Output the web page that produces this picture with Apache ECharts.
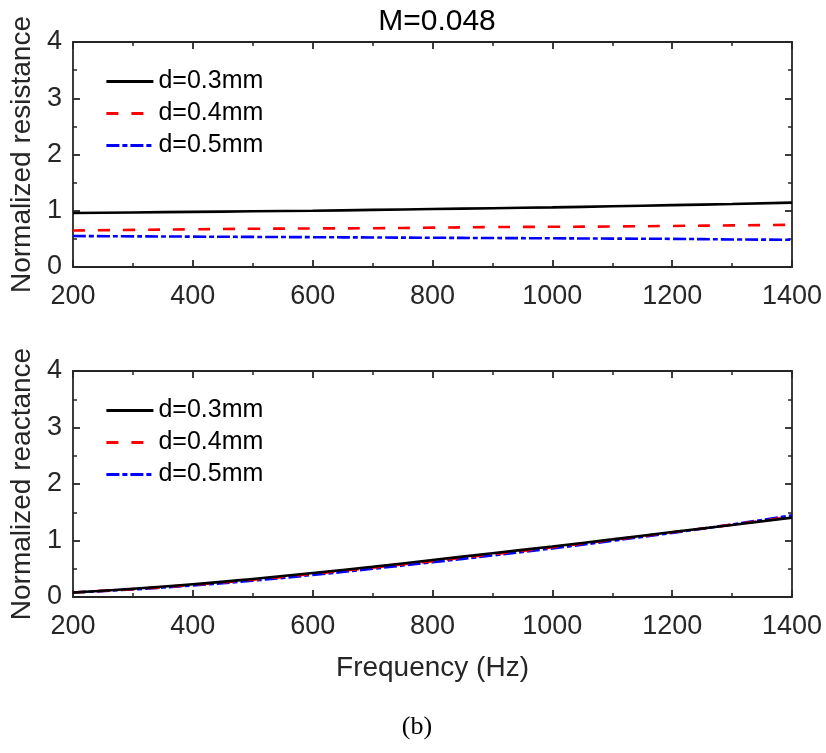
<!DOCTYPE html>
<html><head><meta charset="utf-8">
<script src="https://cdn.jsdelivr.net/npm/echarts@6/dist/echarts.min.js"></script>
<style>html,body{margin:0;padding:0;background:#fff}#c{width:826px;height:753px}</style>
</head><body><div id="c"></div>
<script>
const freq = [200,300,400,500,600,700,800,900,1000,1100,1200,1300,1400];
const seriesNames = ['d=0.3mm','d=0.4mm','d=0.5mm'];
const resD03 = [0.96,0.97,0.98,0.99,1.00,1.015,1.03,1.045,1.06,1.08,1.10,1.12,1.145];
const resD04 = [0.65,0.66,0.67,0.68,0.685,0.69,0.70,0.71,0.715,0.72,0.73,0.74,0.75];
const resD05 = [0.55,0.545,0.54,0.535,0.53,0.525,0.52,0.515,0.51,0.505,0.50,0.49,0.485];
const reaD03 = [0.08,0.145,0.225,0.32,0.425,0.535,0.655,0.775,0.895,1.02,1.15,1.275,1.405];
const reaD04 = [0.08,0.14,0.215,0.305,0.41,0.52,0.635,0.755,0.88,1.01,1.145,1.28,1.42];
const reaD05 = [0.08,0.135,0.205,0.29,0.39,0.50,0.615,0.735,0.86,0.995,1.135,1.285,1.445];
const xTicks = [200,400,600,800,1000,1200,1400];
const yTicks = [0,1,2,3,4];

const FONT = 'Liberation Sans';
const AX = '#262626';
const styles = [
  {color:'#000000', type:'solid'},
  {color:'#ff0000', type:[12,13]},
  {color:'#0000ff', type:[13,3,5,3]}
];
function pairs(v){ return freq.map((f,i)=>[f,v[i]]); }

function xAx(grid, pos, labels, name){
  return {
    type:'value', gridIndex:grid, position:pos, min:xTicks[0], max:xTicks[xTicks.length-1], interval:200,
    axisLine:{show:true, onZero:false, lineStyle:{color:AX, width:1.8}},
    axisTick:{show:true, inside:true, length:7, lineStyle:{color:AX, width:1.8}},
    minorTick:{show:true, splitNumber:2, length:4, lineStyle:{color:AX, width:1.5}},
    splitLine:{show:false},
    axisLabel:{show:labels, color:AX, fontSize:27, fontFamily:FONT, margin:16, formatter:v=>String(v)},
    name:name||'', nameLocation:'middle', nameGap:57,
    nameTextStyle:{color:AX, fontSize:28, fontFamily:FONT}
  };
}
function yAx(grid, pos, labels, name){
  return {
    type:'value', gridIndex:grid, position:pos, min:yTicks[0], max:yTicks[yTicks.length-1], interval:1,
    axisLine:{show:true, onZero:false, lineStyle:{color:AX, width:1.8}},
    axisTick:{show:true, inside:true, length:7, lineStyle:{color:AX, width:1.8}},
    minorTick:{show:true, splitNumber:2, length:4, lineStyle:{color:AX, width:1.5}},
    splitLine:{show:false},
    axisLabel:{show:labels, color:AX, fontSize:27, fontFamily:FONT, margin:11, formatter:v=>String(v)},
    name:name||'', nameLocation:'middle', nameGap:30,
    nameTextStyle:{color:AX, fontSize:28, fontFamily:FONT}
  };
}
function mk(name, data, k, xi, yi){
  return {
    name:name, type:'line', xAxisIndex:xi, yAxisIndex:yi, data:pairs(data),
    showSymbol:false, symbol:'none', smooth:true,
    lineStyle:{color:styles[k].color, type:styles[k].type, width:2.6},
    itemStyle:{color:styles[k].color}, silent:true, z:10-k
  };
}
function legend(top){
  return {
    orient:'vertical', left:100, top:top, itemWidth:47, itemHeight:14, itemGap:7,
    data:seriesNames,
    itemStyle:{opacity:0},
    lineStyle:{width:2.8},
    textStyle:{color:'#000', fontSize:25, fontFamily:FONT},
    selectedMode:false
  };
}
const option = {
  animation:false,
  backgroundColor:'#fff',
  title:{text:'M=0.048', left:432, top:2, textAlign:'center',
    textStyle:{color:'#000', fontSize:30, fontWeight:'normal', fontFamily:FONT}},
  grid:[
    {left:73, top:42, width:719, height:225},
    {left:73, top:371, width:719, height:226}
  ],
  legend:[legend(64), legend(393)],
  xAxis:[xAx(0,'bottom',true), xAx(0,'top',false), xAx(1,'bottom',true,'Frequency (Hz)'), xAx(1,'top',false)],
  yAxis:[yAx(0,'left',true,'Normalized resistance'), yAx(0,'right',false), yAx(1,'left',true,'Normalized reactance'), yAx(1,'right',false)],
  graphic:[{type:'text', x:417, y:727,
    style:{text:'(b)', fill:'#000', font:'26px "Liberation Serif"', textAlign:'center', textVerticalAlign:'middle'}}],
  series:[
    mk(seriesNames[0], resD03, 0, 0, 0),
    mk(seriesNames[1], resD04, 1, 0, 0),
    mk(seriesNames[2], resD05, 2, 0, 0),
    mk(seriesNames[0], reaD03, 0, 2, 2),
    mk(seriesNames[1], reaD04, 1, 2, 2),
    mk(seriesNames[2], reaD05, 2, 2, 2)
  ]
};
const ch = echarts.init(document.getElementById('c'));
ch.setOption(option);
</script></body></html>
